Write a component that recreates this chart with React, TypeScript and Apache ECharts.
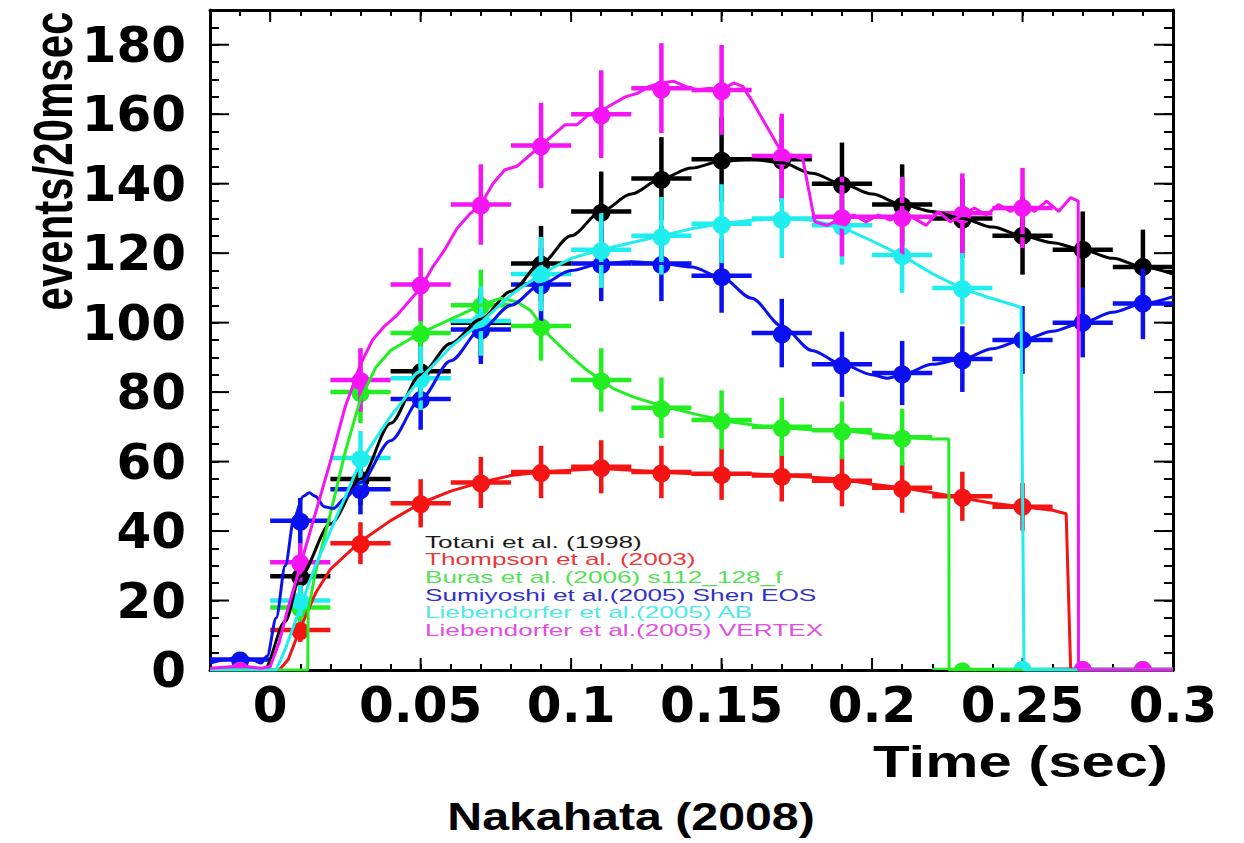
import React, { useEffect, useRef } from 'react';
import * as echarts from 'echarts';

// ---------- axis ticks ----------
const xTickValues = [0, 0.05, 0.1, 0.15, 0.2, 0.25, 0.3];
const xTickLabels = ['0', '0.05', '0.1', '0.15', '0.2', '0.25', '0.3'];
const yTickValues = [0, 20, 40, 60, 80, 100, 120, 140, 160, 180];
const yTickLabels = ['0', '20', '40', '60', '80', '100', '120', '140', '160', '180'];

// ---------- binned "data" points (20 ms bins) ----------
const pointTimes = [-0.01, 0.01, 0.03, 0.05, 0.07, 0.09, 0.11, 0.13, 0.15, 0.17, 0.19, 0.21, 0.23, 0.25, 0.27, 0.29];
const totaniPoints = [0, 27, 55, 86, 100, 117, 132, 141.5, 147, 147, 140, 134, 130, 125, 121, 116];
const thompsonPoints = [0, 11.5, 36.5, 48, 54, 57, 58.5, 57, 56.5, 56, 54.5, 52.5, 50, 47, 0, 0];
const burasPoints = [0, 18, 80, 97, 105, 99, 83.5, 75.5, 72, 70, 69, 67, 0, 0, 0, 0];
const sumiyoshiPoints = [3, 43, 52, 78, 98, 111, 117, 117, 113.5, 97, 88, 85.5, 89.5, 95, 100, 105.5];
const liebABPoints = [0, 20, 61, 84, 100.5, 114, 121, 125, 128.5, 130, 128, 119.5, 110, 0, 0, 0];
const liebVertexPoints = [0, 31, 83.5, 111, 134, 151, 160, 167.5, 167, 148, 130.5, 130.5, 131.5, 133, 0, 0];

// ---------- model curves [time, events] ----------
const totaniCurve = [
  [-0.02, 0], [-0.002, 0], [0.005, 14], [0.01, 27], [0.02, 42], [0.03, 55], [0.04, 71], [0.05, 85],
  [0.06, 94], [0.07, 101], [0.08, 109], [0.09, 117], [0.1, 125], [0.11, 132], [0.12, 137], [0.13, 141.5],
  [0.14, 144.5], [0.15, 146.5], [0.16, 147], [0.17, 146], [0.18, 143], [0.19, 140], [0.2, 137], [0.21, 134],
  [0.22, 132], [0.23, 130], [0.24, 127.5], [0.25, 125], [0.26, 123], [0.27, 121], [0.28, 118.5], [0.29, 116], [0.3, 114],
];
const thompsonCurve = [
  [-0.02, 0], [0.003, 0], [0.006, 3], [0.01, 12], [0.015, 22], [0.02, 29], [0.03, 37], [0.04, 43], [0.05, 48],
  [0.06, 51.5], [0.07, 54], [0.08, 56], [0.09, 57], [0.1, 57.5], [0.11, 58], [0.12, 57.5], [0.13, 57],
  [0.14, 56.5], [0.15, 56.5], [0.16, 56.5], [0.17, 56], [0.18, 55.5], [0.19, 55], [0.2, 53.5], [0.21, 52.5],
  [0.22, 51], [0.23, 49.5], [0.24, 48], [0.25, 47], [0.26, 46], [0.2645, 45], [0.266, 0], [0.3, 0],
];
const burasCurve = [
  [-0.02, 0], [0.0125, 0], [0.0126, 17], [0.015, 28], [0.02, 45], [0.025, 63], [0.03, 78], [0.035, 87],
  [0.04, 92], [0.05, 97], [0.06, 101], [0.07, 105], [0.0765, 107], [0.082, 106], [0.0865, 103.5], [0.093, 96],
  [0.099, 91], [0.105, 86.5], [0.114, 81], [0.121, 78.5], [0.132, 75.6], [0.143, 73.3], [0.154, 71.3],
  [0.165, 70], [0.182, 69], [0.19, 69], [0.2, 68], [0.21, 67], [0.22, 66.5], [0.2255, 66.5], [0.2256, 0], [0.3, 0],
];
const sumiyoshiCurve = [
  [-0.02, 2], [-0.014, 3], [-0.01, 4.5], [-0.006, 3], [-0.003, 2], [-0.001, 4], [0.002, 15], [0.005, 30],
  [0.008, 44], [0.011, 50], [0.013, 51], [0.015, 50], [0.018, 47], [0.021, 46.5], [0.025, 49.5], [0.03, 54],
  [0.04, 66], [0.05, 78], [0.06, 89], [0.07, 98], [0.08, 105], [0.09, 111], [0.1, 115], [0.11, 117],
  [0.12, 117.5], [0.13, 117], [0.14, 116], [0.15, 113], [0.16, 107], [0.17, 99], [0.18, 92], [0.19, 88],
  [0.2, 85], [0.205, 84], [0.21, 85], [0.22, 88], [0.23, 89.5], [0.24, 92.5], [0.25, 95], [0.26, 97.5],
  [0.27, 100], [0.28, 103], [0.29, 105.5], [0.3, 107.5],
];
const liebABCurve = [
  [-0.02, 0], [0.002, 0], [0.005, 6], [0.01, 18], [0.015, 30], [0.02, 40], [0.03, 60], [0.04, 73],
  [0.05, 84], [0.06, 93], [0.07, 100], [0.08, 108], [0.09, 114], [0.1, 118.5], [0.11, 121], [0.12, 123],
  [0.13, 125], [0.14, 127], [0.15, 128.5], [0.16, 129.5], [0.17, 130], [0.18, 129.5], [0.19, 127.5],
  [0.2, 123.5], [0.21, 119.3], [0.22, 114.1], [0.23, 109.8], [0.2385, 107.3], [0.2495, 104.4], [0.2505, 0], [0.3, 0],
];
const liebVertexCurve = [
  [-0.02, 0.5], [-0.012, 1], [-0.008, 1], [-0.003, 0.5], [0, 1], [0.003, 8], [0.006, 18], [0.01, 30],
  [0.015, 45], [0.02, 60], [0.025, 76], [0.028, 83], [0.03, 88], [0.034, 95], [0.038, 99], [0.042, 102],
  [0.046, 106], [0.05, 110], [0.054, 116], [0.058, 121], [0.062, 127], [0.066, 131], [0.07, 134], [0.074, 140],
  [0.078, 144], [0.082, 145], [0.086, 148], [0.09, 151], [0.094, 154], [0.098, 157], [0.102, 157], [0.106, 160],
  [0.11, 161], [0.114, 163], [0.118, 165], [0.122, 166], [0.126, 168], [0.13, 169], [0.134, 169.5], [0.138, 168],
  [0.142, 167], [0.146, 167.5], [0.15, 167], [0.154, 169], [0.157, 168], [0.16, 164], [0.164, 158], [0.168, 152],
  [0.17, 149], [0.174, 148], [0.177, 147], [0.179, 138], [0.181, 129], [0.185, 128], [0.19, 130], [0.194, 131],
  [0.198, 129], [0.202, 131], [0.206, 129.5], [0.21, 131], [0.214, 130], [0.218, 128], [0.222, 132], [0.226, 129],
  [0.23, 131], [0.234, 133], [0.238, 131], [0.242, 134], [0.246, 132], [0.25, 134], [0.254, 132], [0.258, 135],
  [0.262, 132], [0.266, 136], [0.2685, 135], [0.2686, 0], [0.3, 0],
];

// ---------- model names & colours ----------
const modelNames = [
  'Totani et al. (1998)',
  'Thompson et al. (2003)',
  'Buras et al. (2006) s112_128_f',
  'Sumiyoshi et al.(2005) Shen EOS',
  'Liebendorfer et al.(2005) AB',
  'Liebendorfer et al.(2005) VERTEX',
];
const modelColors = ['#000000', '#f41414', '#22ee22', '#0a10f0', '#20eeee', '#f414f4'];
const legendColors = ['#1a1a1a', '#e83a3a', '#55e055', '#3030d0', '#50e8e8', '#e050e0'];

const allPoints = [totaniPoints, thompsonPoints, burasPoints, sumiyoshiPoints, liebABPoints, liebVertexPoints];
const allCurves = [totaniCurve, thompsonCurve, burasCurve, sumiyoshiCurve, liebABCurve, liebVertexCurve];
const smoothFlags = [0.3, false, false, 0.3, false, false];

const BIN_HALF = 0.01;
const X_MIN = -0.02;
const X_MAX = 0.3;
const Y_MIN = 0;
const Y_MAX = 190;

function labelFor(values: number[], labels: string[]) {
  return (v: number) => {
    const i = values.findIndex((x) => Math.abs(x - v) < 1e-9);
    return i >= 0 ? labels[i] : '';
  };
}

export default function App() {
  const ref = useRef<HTMLDivElement>(null);

  useEffect(() => {
    if (!ref.current) return;
    const chart = echarts.init(ref.current, null, { renderer: 'svg' });

    const axisLineStyle = { color: '#000', width: 3 };
    const tickStyle = { color: '#000', width: 2 };
    const labelFont = {
      fontFamily: '"DejaVu Sans", sans-serif',
      fontWeight: 'bold' as const,
      fontSize: 50,
      color: '#000',
    };

    const xBase = {
      type: 'value' as const,
      min: X_MIN,
      max: X_MAX,
      interval: 0.01,
      splitLine: { show: false },
      axisLine: { onZero: false, lineStyle: axisLineStyle },
      axisTick: { inside: true, length: 6, lineStyle: tickStyle },
    };
    const yBase = {
      type: 'value' as const,
      min: Y_MIN,
      max: Y_MAX,
      interval: 5,
      splitLine: { show: false },
      axisLine: { onZero: false, lineStyle: axisLineStyle },
      axisTick: { inside: true, length: 9, lineStyle: tickStyle },
    };

    const series: any[] = [];

    // major (long) ticks on all four frame sides, placed through the axes' scales
    series.push({
      type: 'custom',
      name: 'xMajorTicks',
      xAxisIndex: 0,
      yAxisIndex: 0,
      silent: true,
      clip: false,
      z: 1,
      data: xTickValues.map((v) => [v, Y_MIN]),
      renderItem: (params: any, api: any) => {
        const v = api.value(0);
        const b = api.coord([v, Y_MIN]);
        const t = api.coord([v, Y_MAX]);
        return {
          type: 'group',
          children: [
            { type: 'line', shape: { x1: b[0], y1: b[1], x2: b[0], y2: b[1] - 12 }, style: { stroke: '#000', lineWidth: 2 } },
            { type: 'line', shape: { x1: t[0], y1: t[1], x2: t[0], y2: t[1] + 12 }, style: { stroke: '#000', lineWidth: 2 } },
          ],
        };
      },
    });
    series.push({
      type: 'custom',
      name: 'yMajorTicks',
      xAxisIndex: 0,
      yAxisIndex: 0,
      silent: true,
      clip: false,
      z: 1,
      data: yTickValues.map((v) => [X_MIN, v]),
      renderItem: (params: any, api: any) => {
        const v = api.value(1);
        const l = api.coord([X_MIN, v]);
        const r = api.coord([X_MAX, v]);
        return {
          type: 'group',
          children: [
            { type: 'line', shape: { x1: l[0], y1: l[1], x2: l[0] + 19, y2: l[1] }, style: { stroke: '#000', lineWidth: 2 } },
            { type: 'line', shape: { x1: r[0], y1: r[1], x2: r[0] - 19, y2: r[1] }, style: { stroke: '#000', lineWidth: 2 } },
          ],
        };
      },
    });

    modelNames.forEach((name, k) => {
      const color = modelColors[k];
      series.push({
        type: 'line',
        name,
        data: allCurves[k],
        xAxisIndex: 0,
        yAxisIndex: 0,
        symbol: 'none',
        showSymbol: false,
        smooth: smoothFlags[k],
        smoothMonotone: 'x',
        clip: true,
        silent: true,
        z: 2,
        lineStyle: { color, width: 3 },
      });
      series.push({
        type: 'custom',
        name,
        xAxisIndex: 0,
        yAxisIndex: 0,
        clip: true,
        silent: true,
        z: 2,
        data: pointTimes.map((t, i) => [t, allPoints[k][i], Math.sqrt(allPoints[k][i])]),
        renderItem: (params: any, api: any) => {
          const t = api.value(0);
          const v = api.value(1);
          const e = api.value(2);
          const c = api.coord([t, v]);
          const l = api.coord([t - BIN_HALF, v]);
          const r = api.coord([t + BIN_HALF, v]);
          const top = api.coord([t, v + e]);
          const bot = api.coord([t, v - e]);
          return {
            type: 'group',
            children: [
              { type: 'line', shape: { x1: l[0], y1: c[1], x2: r[0], y2: c[1] }, style: { stroke: color, lineWidth: 4.5 } },
              { type: 'line', shape: { x1: c[0], y1: top[1], x2: c[0], y2: bot[1] }, style: { stroke: color, lineWidth: 4.5 } },
              { type: 'circle', shape: { cx: c[0], cy: c[1], r: 9 }, style: { fill: color } },
            ],
          };
        },
      });
    });

    const legendTexts = modelNames.map((name, k) => ({
      type: 'text',
      x: 425,
      y: 542 + k * 17.6,
      scaleX: 1.54,
      silent: true,
      z: 10,
      style: {
        text: name,
        fill: legendColors[k],
        font: '17px "Liberation Sans", Arial, sans-serif',
        textAlign: 'left',
        textVerticalAlign: 'middle',
        align: 'left',
        verticalAlign: 'middle',
      },
    }));

    chart.setOption({
      animation: false,
      backgroundColor: '#ffffff',
      grid: { left: 210, right: 71, top: 10, bottom: 173, containLabel: false },
      xAxis: [
        {
          ...xBase,
          position: 'bottom',
          axisLabel: {
            ...labelFont,
            customValues: xTickValues,
            formatter: labelFor(xTickValues, xTickLabels),
            margin: 10,
          },
        },
        {
          ...xBase,
          position: 'top',
          axisLabel: { show: false },
        },
      ],
      yAxis: [
        {
          ...yBase,
          position: 'left',
          axisLabel: {
            ...labelFont,
            customValues: yTickValues,
            formatter: labelFor(yTickValues, yTickLabels),
            margin: 24,
          },
        },
        {
          ...yBase,
          position: 'right',
          axisLabel: { show: false },
        },
      ],
      series,
      graphic: [
        ...legendTexts,
        {
          type: 'text',
          x: 52,
          y: 161,
          rotation: Math.PI / 2,
          scaleY: 1.33,
          silent: true,
          style: {
            text: 'events/20msec',
            fill: '#000',
            font: 'bold 42px "Liberation Sans", Arial, sans-serif',
            textAlign: 'center',
            textVerticalAlign: 'middle',
            align: 'center',
            verticalAlign: 'middle',
          },
        },
        {
          type: 'text',
          x: 1168,
          y: 762,
          scaleX: 1.36,
          silent: true,
          style: {
            text: 'Time (sec)',
            fill: '#000',
            font: 'bold 44px "Liberation Sans", Arial, sans-serif',
            textAlign: 'right',
            textVerticalAlign: 'middle',
            align: 'right',
            verticalAlign: 'middle',
          },
        },
        {
          type: 'text',
          x: 631,
          y: 817,
          scaleX: 1.27,
          silent: true,
          style: {
            text: 'Nakahata (2008)',
            fill: '#000',
            font: 'bold 38px "Liberation Sans", Arial, sans-serif',
            textAlign: 'center',
            textVerticalAlign: 'middle',
            align: 'center',
            verticalAlign: 'middle',
          },
        },
      ],
    });

    return () => {
      chart.dispose();
    };
  }, []);

  return (
    <div
      ref={ref}
      style={{ position: 'absolute', left: 0, top: 0, width: 1244, height: 843, background: '#fff' }}
    />
  );
}
